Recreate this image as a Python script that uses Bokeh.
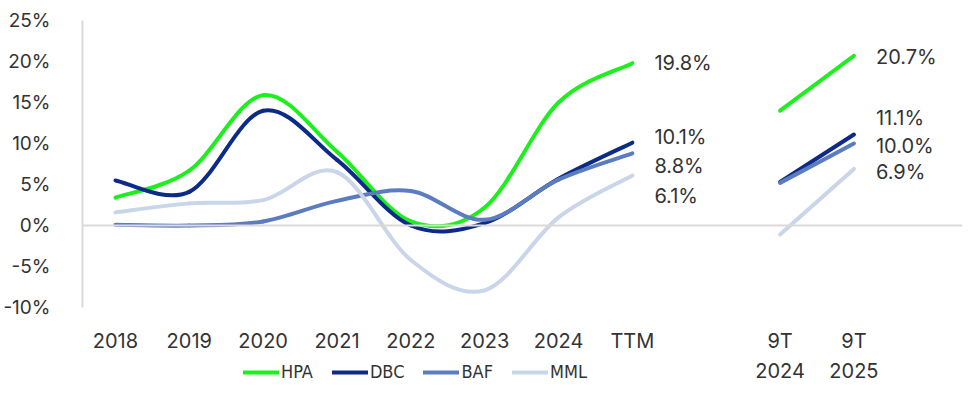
from bokeh.plotting import figure
from bokeh.models import (ColumnDataSource, FixedTicker, PrintfTickFormatter, Span,
                          Legend, LegendItem, Range1d, LinearAxis)
from bokeh.core.properties import value
from bokeh.embed import file_html
from bokeh.resources import INLINE

# ---------------- data ----------------
annual_labels = ["2018", "2019", "2020", "2021", "2022", "2023", "2024", "TTM"]
period_labels = ["9T\n2024", "9T\n2025"]
series_names = ["HPA", "DBC", "BAF", "MML"]

hpa_annual = [3.4, 6.7, 15.9, 9.0, 0.5, 2.2, 15.0, 19.8]
dbc_annual = [5.5, 4.1, 14.0, 8.0, 0.0, 0.3, 5.7, 10.1]
baf_annual = [0.1, 0.0, 0.5, 3.0, 4.2, 0.7, 5.6, 8.8]
mml_annual = [1.6, 2.7, 3.1, 6.5, -4.2, -7.9, 1.0, 6.1]

hpa_9t = [14.0, 20.7]
dbc_9t = [5.3, 11.1]
baf_9t = [5.2, 10.0]
mml_9t = [-1.1, 6.9]

y_ticks = [-10, -5, 0, 5, 10, 15, 20, 25]

# ---------------- style ----------------
colors = ["#1CF01C", "#0B2B86", "#5C7CC0", "#C9D5E9"]
FONT = "Inter"
LEGEND_FONT = "'DejaVu Sans Condensed', 'DejaVu Sans', sans-serif"
TEXT_COLOR = "#333333"
# screen-pixel nudges for end labels (TTM then 9T 2025), positive = down
ttm_nudge = [0, -6, 13, 21]
t9_nudge = [1, -16, 2, 3]

annual_x = list(range(len(annual_labels)))
period_x = [len(annual_labels) + 1, len(annual_labels) + 2]
AXIS_MIN, AXIS_MAX = y_ticks[0], y_ticks[-1]
VIEW_MIN = -20.85  # extra room below the axis for labels and legend


def smooth_segments(xs, ys):
    """Bezier control points (Catmull-Rom style, like spreadsheet smoothed lines)."""
    n = len(xs)
    out = dict(x0=[], y0=[], x1=[], y1=[], cx0=[], cy0=[], cx1=[], cy1=[])
    for i in range(n - 1):
        a = max(i - 1, 0)
        d = min(i + 2, n - 1)
        out["x0"].append(xs[i]); out["y0"].append(ys[i])
        out["x1"].append(xs[i + 1]); out["y1"].append(ys[i + 1])
        out["cx0"].append(xs[i] + (xs[i + 1] - xs[a]) / 6)
        out["cy0"].append(ys[i] + (ys[i + 1] - ys[a]) / 6)
        out["cx1"].append(xs[i + 1] - (xs[d] - xs[i]) / 6)
        out["cy1"].append(ys[i + 1] - (ys[d] - ys[i]) / 6)
    return out


p = figure(width=975, height=398, output_backend="svg", toolbar_location=None,
           x_range=Range1d(-0.446, 11.47), y_range=Range1d(VIEW_MIN, AXIS_MAX),
           x_axis_location=None,
           min_border_left=80, min_border_right=13, min_border_top=20,
           min_border_bottom=2)
p.outline_line_color = None
p.xgrid.visible = False
p.ygrid.visible = False
p.background_fill_color = "white"
p.border_fill_color = "white"

# zero line
p.add_layout(Span(location=0, dimension="width", line_color="#D9D9D9", line_width=2))

annual = [hpa_annual, dbc_annual, baf_annual, mml_annual]
nine = [hpa_9t, dbc_9t, baf_9t, mml_9t]
legend_items = []
for name, col, ys, ys9 in zip(series_names, colors, annual, nine):
    src = ColumnDataSource(smooth_segments(annual_x, ys))
    p.bezier(x0="x0", y0="y0", x1="x1", y1="y1", cx0="cx0", cy0="cy0",
             cx1="cx1", cy1="cy1", source=src, line_color=col, line_width=4,
             line_cap="round")
    r = p.line(period_x, ys9, line_color=col, line_width=4, line_cap="round")
    legend_items.append(LegendItem(label=name, renderers=[r]))

# end labels
ttm_vals = [s[-1] for s in annual]
t9_vals = [s[-1] for s in nine]
for vals, xpos, nudges in ((ttm_vals, annual_x[-1], ttm_nudge), (t9_vals, period_x[-1], t9_nudge)):
    for v, dy in zip(vals, nudges):
        p.text(x=[xpos], y=[v], text=[f"{v:.1f}%"], x_offset=22, y_offset=dy,
               text_font=value(FONT), text_font_size="20px", text_color=TEXT_COLOR,
               text_align="left", text_baseline="middle")

# x axis fixed at the bottom of the value scale
xa = LinearAxis(fixed_location=AXIS_MIN)
p.add_layout(xa, "below")
xa.ticker = FixedTicker(ticks=annual_x + period_x)
xa.major_label_overrides = {**{x: l for x, l in zip(annual_x, annual_labels)},
                            **{x: l for x, l in zip(period_x, period_labels)}}
xa.axis_line_color = None
xa.major_tick_line_color = None
xa.minor_tick_line_color = None
xa.major_label_standoff = 15
xa.major_label_text_font = FONT
xa.major_label_text_font_size = "20px"
xa.major_label_text_color = TEXT_COLOR
xa.major_label_text_line_height = 1.25

ya = p.yaxis[0]
ya.ticker = FixedTicker(ticks=y_ticks)
ya.bounds = (AXIS_MIN, AXIS_MAX)
ya.formatter = PrintfTickFormatter(format="%d%%")
ya.axis_line_color = "#D9D9D9"
ya.axis_line_width = 2
ya.major_tick_line_color = None
ya.minor_tick_line_color = None
ya.major_label_standoff = 26
ya.major_label_text_font = FONT
ya.major_label_text_font_size = "19px"
ya.major_label_text_color = TEXT_COLOR

legend = Legend(items=legend_items, orientation="horizontal", location=(161, 14),
                glyph_width=36, glyph_height=20, label_standoff=2, spacing=19,
                padding=0, margin=0, background_fill_alpha=0, border_line_alpha=0,
                label_text_font=LEGEND_FONT, label_text_font_size="18px",
                label_text_color=TEXT_COLOR)
p.add_layout(legend)

open("out.html", "w").write(file_html(p, INLINE))
